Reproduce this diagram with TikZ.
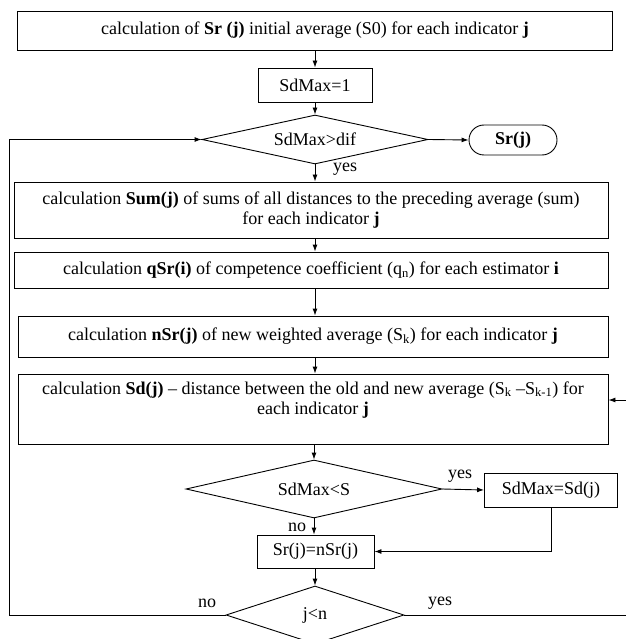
\documentclass[tikz,border=0pt]{standalone}
\usepackage{fontspec}
\setmainfont{Liberation Serif}
\usetikzlibrary{arrows.meta,shapes.geometric,shapes.misc}
\begin{document}
\begin{tikzpicture}[x=1pt,y=-1pt,
  every node/.style={font=\fontsize{18}{20.5}\selectfont},
  box/.style={draw,line width=0.9pt,inner sep=0pt,align=center},
  dia/.style={draw,diamond,line width=0.9pt,inner sep=0pt},
  term/.style={draw,rounded rectangle,line width=0.9pt,inner sep=0pt},
  arr/.style={-{Latex[length=7pt,width=5pt]},line width=0.9pt},
  ln/.style={line width=0.9pt},
  lbl/.style={inner sep=0pt}]
\useasboundingbox (0,0) rectangle (625,639);
% nodes
\node[box,minimum width=595,minimum height=39] (b1) at (315,30.5)
  {calculation of \textbf{Sr (j)} initial average (S0) for each indicator \textbf{j}};
\node[box,minimum width=114,minimum height=34] (sd1) at (315,85) {SdMax=1};
\node[dia,aspect=4.6,minimum width=226,minimum height=49] (d1) at (315,139.5) {SdMax>dif};
\node[term,minimum width=88,minimum height=30] (srj) at (513,140) {\textbf{Sr(j)}};
\node[box,minimum width=594,minimum height=56] (sum) at (311,210)
  {calculation \textbf{Sum(j)} of sums of all distances to the preceding average (sum)\\ for each indicator \textbf{j}};
\node[box,minimum width=594,minimum height=36] (qsr) at (311,270)
  {calculation \textbf{qSr(i)} of competence coefficient (q\textsubscript{n}) for each estimator \textbf{i}};
\node[box,minimum width=590,minimum height=41] (nsr) at (313,336.5)
  {calculation \textbf{nSr(j)} of new weighted average (S\textsubscript{k}) for each indicator \textbf{j}};
\node[box,minimum width=590,minimum height=70] (sd) at (313,409)
  {\parbox[c][70pt][t]{586pt}{\centering\rule{0pt}{20pt}calculation \textbf{Sd(j)} -- distance between the old and new average (S\textsubscript{k} --S\textsubscript{k-1}) for\\ each indicator \textbf{j}}};
\node[dia,aspect=4.4,minimum width=256,minimum height=58] (d2) at (314,489) {SdMax<S};
\node[box,minimum width=133,minimum height=34] (sdm) at (551,490) {SdMax=Sd(j)};
\node[box,minimum width=117,minimum height=33] (sr2) at (315.5,551.5) {Sr(j)=nSr(j)};
\node[dia,aspect=3.07,minimum width=178,minimum height=58] (d3) at (315,615) {j<n};
% labels
\node[lbl] (y1) at (345,169) {yes};
\node[lbl] (n2) at (297,527) {no};
\node[lbl] (y2) at (460,476) {yes};
\node[lbl] (n3) at (207,603) {no};
\node[lbl] (y3) at (440,603) {yes};
% coordinates for free loop lines
\coordinate (L) at (9,0);
\coordinate (R) at (640,0);
% connectors
\draw[arr] (b1.south -| sd1) -- (sd1.north);
\draw[arr] (sd1.south) -- (d1.north);
\draw[arr] (d1.east) -- (srj.west);
\draw[arr] (d1.south) -- (d1.south |- sum.north);
\draw[arr] (d1.south |- sum.south) -- (d1.south |- qsr.north);
\draw[arr] (d1.south |- qsr.south) -- (d1.south |- nsr.north);
\draw[arr] (d1.south |- nsr.south) -- (d1.south |- sd.north);
\draw[arr] (d2.north |- sd.south) -- (d2.north);
\draw[arr] (d2.east) -- (sdm.west);
\draw[arr] (d2.south) -- (d2.south |- sr2.north);
\draw[arr] (sdm.south) |- (sr2.east);
\draw[arr] (sr2.south -| d3) -- (d3.north);
\draw[arr] (d3.west) -- (d3.west -| L) |- (d1.west);
\draw[arr] (d3.east) -- (d3.east -| R) |- ([yshift=9pt]sd.east);
\end{tikzpicture}
\end{document}
